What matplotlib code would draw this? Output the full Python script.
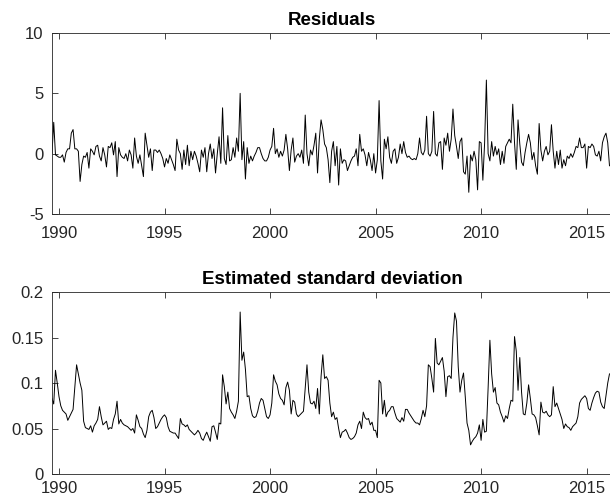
import numpy as np
import matplotlib
matplotlib.use('Agg')
import matplotlib.pyplot as plt
from matplotlib.ticker import FuncFormatter

# monthly residuals, Sep 1989 onwards
resid = [
    0.0, 2.6, -0.1, -0.2, -0.3, -0.3, -0.1, -0.7, 0.1, 0.4,
    0.4, 1.7, 2.0, 0.4, 0.4, 0.2, -2.3, -0.9, -0.2, -0.3,
    0.1, -1.2, 0.4, 0.2, -0.1, 0.6, 0.7, -0.2, -0.6, 0.5,
    -0.1, -1.1, 0.6, 0.5, 0.9, -0.1, 1.0, -1.9, 0.5, -0.1,
    -0.3, -0.4, 0.0, -0.6, 0.3, -0.1, -1.2, 1.3, -0.2, -0.8,
    -0.1, -1.0, -1.9, 1.7, 0.7, -0.3, 0.4, -1.4, 0.3, 0.3,
    0.1, 0.3, 0.0, -0.4, -1.1, -0.4, -0.8, -0.1, -0.5, -0.9,
    -1.4, 1.2, 0.3, 0.0, -1.3, 0.3, -0.9, 0.7, -1.0, 0.2,
    -0.5, 0.2, -0.2, -0.8, -1.5, 0.3, -0.3, 0.5, -1.5, 0.0,
    0.8, -0.4, 0.4, -1.6, 0.0, 1.4, -0.8, 3.8, -0.4, -0.9,
    1.5, -0.6, -0.5, 0.5, -0.3, 1.3, 0.2, 5.0, -0.5, 1.0,
    -2.1, 0.5, -0.8, -0.2, -0.6, -0.2, 0.1, 0.5, 0.5, 0.0,
    -0.4, -0.6, -0.6, -0.3, 0.3, 0.6, 2.1, 0.0, 0.4, -0.3,
    0.2, -0.2, 0.3, 1.6, 0.4, -1.4, 0.3, 1.3, -0.7, -0.2,
    0.0, -0.3, 0.3, -0.8, 3.2, 0.0, -1.0, 0.3, -0.1, 0.7,
    1.7, -1.6, 1.2, 2.8, 2.0, 0.8, 0.5, -0.5, -2.4, 0.2,
    1.0, -1.0, 0.6, -2.6, 0.4, -0.8, -0.5, -0.6, -1.4, -1.0,
    -0.6, -0.3, -0.2, 0.4, -1.0, 1.6, 0.2, 0.4, -0.1, -1.0,
    0.1, -0.5, -1.4, 0.0, -1.6, -0.5, 4.4, -0.6, -2.1, 1.2,
    0.4, 1.4, -0.3, -0.8, 0.2, 0.4, -0.8, -0.3, 0.8, 0.0,
    1.0, 0.1, -0.3, -0.2, -0.4, -0.5, -0.4, -0.5, 0.0, 1.3,
    0.1, -0.1, 0.3, 3.1, 0.0, -0.2, 0.2, 3.5, 0.0, -0.2,
    0.9, 1.0, -1.3, 1.3, 0.7, 1.7, 0.2, 1.2, 3.7, 1.5,
    0.6, -0.4, 1.0, 1.3, -1.5, -1.7, -0.2, -3.2, -0.1, -0.6,
    0.2, -0.5, -3.0, 1.0, 0.9, -2.2, 0.9, 6.1, 0.0, -0.6,
    1.0, -0.2, 0.6, -0.1, 0.4, -0.9, 0.2, -0.8, 0.6, 0.9,
    1.2, 0.9, 4.1, 0.9, -1.3, 2.8, 0.8, -0.7, -1.0, 0.1,
    0.9, 1.6, 0.9, -0.5, 0.1, -1.0, -1.7, 2.5, 0.3, -0.6,
    0.2, 0.6, -0.1, 0.2, 2.4, 0.2, -1.2, 0.2, -0.9, 0.3,
    -1.2, -0.5, -1.0, -0.2, -0.4, 0.0, -0.3, 0.1, 0.6, 0.5,
    1.3, 0.5, 0.5, 0.8, -1.2, 0.6, 0.5, 0.8, 0.6, -0.1,
    -0.2, 0.2, -0.6, 0.9, 1.4, 1.7, 0.9, -1.0,
]

# conditional standard deviation, same months
sigma = [
    0.083, 0.077, 0.114, 0.100, 0.085, 0.075, 0.070, 0.068, 0.066, 0.059,
    0.063, 0.067, 0.071, 0.095, 0.120, 0.110, 0.100, 0.092, 0.058, 0.051,
    0.050, 0.049, 0.053, 0.046, 0.053, 0.056, 0.060, 0.074, 0.063, 0.054,
    0.056, 0.058, 0.049, 0.051, 0.050, 0.060, 0.066, 0.080, 0.055, 0.060,
    0.056, 0.054, 0.053, 0.052, 0.050, 0.048, 0.050, 0.045, 0.065, 0.059,
    0.052, 0.050, 0.044, 0.040, 0.048, 0.063, 0.068, 0.070, 0.062, 0.050,
    0.052, 0.056, 0.060, 0.063, 0.065, 0.062, 0.052, 0.047, 0.046, 0.045,
    0.045, 0.042, 0.039, 0.061, 0.055, 0.054, 0.052, 0.054, 0.049, 0.047,
    0.045, 0.043, 0.045, 0.048, 0.045, 0.039, 0.037, 0.042, 0.046, 0.041,
    0.036, 0.052, 0.053, 0.046, 0.038, 0.056, 0.055, 0.109, 0.096, 0.077,
    0.090, 0.072, 0.068, 0.065, 0.061, 0.069, 0.080, 0.178, 0.125, 0.134,
    0.115, 0.085, 0.086, 0.072, 0.064, 0.062, 0.063, 0.069, 0.078, 0.083,
    0.081, 0.072, 0.063, 0.061, 0.065, 0.078, 0.109, 0.102, 0.098, 0.088,
    0.083, 0.081, 0.076, 0.095, 0.101, 0.092, 0.066, 0.081, 0.079, 0.066,
    0.063, 0.065, 0.067, 0.069, 0.095, 0.120, 0.090, 0.078, 0.077, 0.080,
    0.072, 0.094, 0.066, 0.107, 0.131, 0.105, 0.107, 0.103, 0.078, 0.063,
    0.068, 0.060, 0.062, 0.050, 0.040, 0.046, 0.047, 0.049, 0.045, 0.040,
    0.038, 0.039, 0.041, 0.045, 0.054, 0.058, 0.050, 0.068, 0.062, 0.060,
    0.061, 0.054, 0.057, 0.048, 0.048, 0.040, 0.103, 0.100, 0.066, 0.081,
    0.063, 0.068, 0.070, 0.074, 0.074, 0.067, 0.061, 0.059, 0.057, 0.062,
    0.058, 0.071, 0.071, 0.067, 0.064, 0.061, 0.058, 0.056, 0.056, 0.054,
    0.061, 0.070, 0.063, 0.075, 0.120, 0.118, 0.105, 0.090, 0.149, 0.122,
    0.120, 0.124, 0.128, 0.113, 0.085, 0.107, 0.108, 0.105, 0.150, 0.177,
    0.168, 0.118, 0.090, 0.103, 0.111, 0.085, 0.056, 0.048, 0.032, 0.036,
    0.039, 0.041, 0.045, 0.054, 0.037, 0.060, 0.046, 0.047, 0.095, 0.147,
    0.110, 0.090, 0.095, 0.078, 0.076, 0.068, 0.063, 0.057, 0.064, 0.061,
    0.072, 0.081, 0.080, 0.151, 0.135, 0.092, 0.128, 0.090, 0.066, 0.065,
    0.078, 0.098, 0.083, 0.066, 0.065, 0.062, 0.053, 0.043, 0.079, 0.068,
    0.067, 0.069, 0.065, 0.063, 0.065, 0.096, 0.074, 0.078, 0.072, 0.066,
    0.060, 0.050, 0.055, 0.052, 0.051, 0.048, 0.052, 0.054, 0.056, 0.063,
    0.078, 0.082, 0.084, 0.086, 0.083, 0.072, 0.070, 0.078, 0.084, 0.089,
    0.091, 0.090, 0.079, 0.074, 0.072, 0.086, 0.100, 0.110,
]

year_ticks = [1990, 1995, 2000, 2005, 2010, 2015]
resid_ticks = [-5, 0, 5, 10]
sigma_ticks = [0, 0.05, 0.1, 0.15, 0.2]

# decimal-year time axis, one point per month
t = 1989 + 8 / 12 + np.arange(len(resid)) / 12

plt.rcParams['font.family'] = ['Liberation Sans', 'DejaVu Sans']
plt.rcParams['axes.unicode_minus'] = False
axcol = '#262626'

fig = plt.figure(figsize=(6.1, 5.04), dpi=100)
ax1 = fig.add_axes([0.0852, 0.5754, 0.918, 0.3591])
ax2 = fig.add_axes([0.0852, 0.0595, 0.918, 0.3611])

ax1.plot(t, resid, color='k', lw=0.7)
ax2.plot(t, sigma, color='k', lw=0.7)

ax1.set_ylim(-5, 10)
ax1.set_yticks(resid_ticks)
ax2.set_ylim(0, 0.2)
ax2.set_yticks(sigma_ticks)
ax2.yaxis.set_major_formatter(FuncFormatter(lambda v, p: '%g' % v))

ax1.set_title('Residuals', fontsize=13.5, fontweight='bold', pad=6)
ax2.set_title('Estimated standard deviation', fontsize=13.5, fontweight='bold', pad=6)

for ax, xpad in ((ax1, 9), (ax2, 5)):
    ax.set_xlim(1989.667, 2016.2)
    ax.set_xticks(year_ticks)
    ax.spines['right'].set_visible(False)
    for s in ('left', 'top', 'bottom'):
        ax.spines[s].set_color(axcol)
        ax.spines[s].set_linewidth(0.6)
    ax.tick_params(direction='in', length=4, width=0.6, color=axcol,
                   labelcolor=axcol, labelsize=12)
    ax.tick_params(axis='x', top=True, pad=xpad)
    ax.tick_params(axis='y', pad=6)

fig.savefig('out.png', dpi=100)
